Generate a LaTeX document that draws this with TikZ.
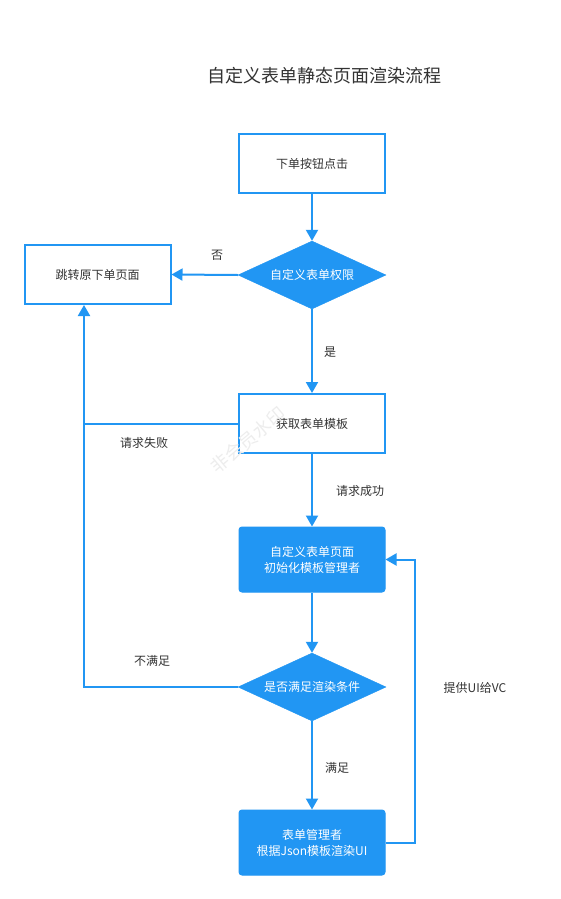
\documentclass[tikz,border=0pt]{standalone}
\usepackage{fontspec}
\setmainfont{Noto Sans CJK SC}
\usetikzlibrary{arrows.meta,shapes.geometric}
\definecolor{fblue}{RGB}{33,150,243}
\definecolor{ftext}{RGB}{51,51,51}
\tikzset{
  x=1pt,y=-1pt,
  lbl/.style={font=\fontsize{12}{15}\selectfont,text=ftext,inner sep=0},
  outbox/.style={draw=fblue,line width=2pt,fill=white,minimum width=146pt,minimum height=59pt,inner sep=0,font=\fontsize{12}{15}\selectfont,text=ftext},
  fillbox/.style={draw=fblue,line width=1pt,fill=fblue,rounded corners=3pt,minimum width=146pt,minimum height=65pt,inner sep=0,font=\fontsize{12}{16}\selectfont,text=white,align=center},
  dia/.style={diamond,fill=fblue,draw=fblue,minimum width=148pt,minimum height=68pt,aspect=2.2,inner sep=0,font=\fontsize{12}{15}\selectfont,text=white},
  conn/.style={draw=fblue,line width=2pt},
  arr/.style={conn,-{Triangle[length=11pt,width=12pt]}},
}
\begin{document}
\begin{tikzpicture}
\useasboundingbox (0,0) rectangle (560,899);
\fill[white] (0,0) rectangle (560,899);
\node[font=\fontsize{18}{20}\selectfont,text=ftext] (title) at (324,76) {自定义表单静态页面渲染流程};
\node[outbox] (b1) at (312,163.5) {下单按钮点击};
\node[dia] (d1) at (312,275) {自定义表单权限};
\node[outbox] (b2) at (97.5,274.5) {跳转原下单页面};
\node[outbox] (b3) at (312,423.5) {获取表单模板};
\node[fillbox] (b4) at (312,559.5) {自定义表单页面\\初始化模板管理者};
\node[dia] (d2) at (312,687) {是否满足渲染条件};
\node[fillbox] (b5) at (312,842.5) {表单管理者\\根据Json模板渲染UI};
\coordinate (c1) at (84,423.5);
\coordinate (c2) at (84,687);
\coordinate (c3) at (415,842.5);
\coordinate (c4) at (415,559.5);
\draw[arr] (b1.south) -- (d1.north);
\draw[arr] (d1.west) -- (b2.east);
\draw[arr] (d1.south) -- (b3.north);
\draw[arr] (b3.south) -- (b4.north);
\draw[arr] (b4.south) -- (d2.north);
\draw[arr] (d2.south) -- (b5.north);
\draw[conn] (b3.west) -- (c1);
\draw[arr] (d2.west) -- (c2) -- (b2.south -| c2);
\draw[arr] (b5.east) -- (c3) -- (c4) -- (b4.east);
\node[lbl] (l1) at (217,255) {否};
\node[lbl] (l2) at (330,352) {是};
\node[lbl] (l3) at (144,443) {请求失败};
\node[lbl] (l4) at (360,491) {请求成功};
\node[lbl] (l5) at (152,661) {不满足};
\node[lbl] (l6) at (337,768) {满足};
\node[lbl] (l7) at (475,688) {提供UI给VC};
\node[font=\fontsize{18}{20}\selectfont,text=black!7,rotate=40] (wm) at (248,440) {非会员水印};
\end{tikzpicture}
\end{document}
